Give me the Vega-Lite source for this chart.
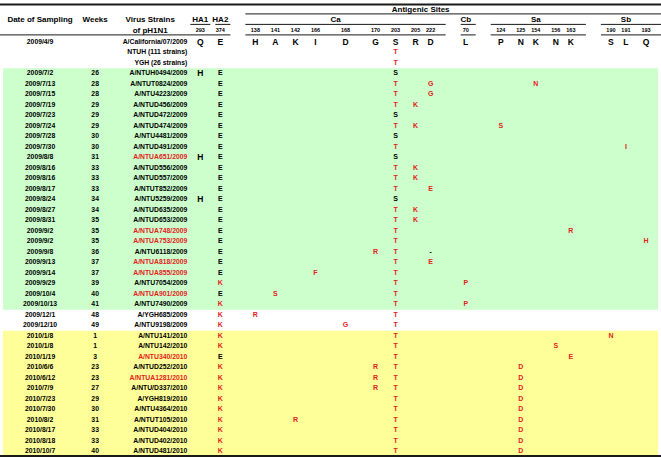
{
"$schema": "https://vega.github.io/schema/vega-lite/v6.json",
"width": 661, "height": 461, "autosize": {"type": "none"}, "padding": 0,
"background": "white",
"config": {"view": {"stroke": null}},
"datasets": {
"bands": [{"from": 3, "to": 25, "period": "2009"}, {"from": 28, "to": 39, "period": "2010"}],
"lines": [
{"row": -4, "from": "left", "to": "right", "kind": "border"},
{"row": 39, "from": "left", "to": "right", "kind": "border"},
{"row": -3, "from": "caL", "to": "right", "kind": "rule"},
{"row": -2, "from": "ha1L", "to": "ha1R", "kind": "rule"},
{"row": -2, "from": "ha2L", "to": "ha2R", "kind": "rule"},
{"row": -2, "from": "caL", "to": "caR", "kind": "rule"},
{"row": -2, "from": "cbL", "to": "cbR", "kind": "rule"},
{"row": -2, "from": "saL", "to": "saR", "kind": "rule"},
{"row": -2, "from": "sbL", "to": "right", "kind": "rule"},
{"row": -1, "from": "left", "to": "ha2R", "kind": "rule"},
{"row": -1, "from": "caL", "to": "caR", "kind": "rule"},
{"row": -1, "from": "cbL", "to": "cbR", "kind": "rule"},
{"row": -1, "from": "saL", "to": "saR", "kind": "rule"},
{"row": -1, "from": "sbL", "to": "right", "kind": "rule"}
],
"headers": [
{"r": -3, "col": "hAnt", "label": "Antigenic Sites"},
{"r": -2, "col": "date", "label": "Date of Sampling"},
{"r": -2, "col": "weeks", "label": "Weeks"},
{"r": -2, "col": "strainHdr", "label": "Virus Strains"},
{"r": -1, "col": "strainHdr", "label": "of pH1N1"},
{"r": -2, "col": "ha1", "label": "HA1"},
{"r": -2, "col": "ha2", "label": "HA2"},
{"r": -2, "col": "hCa", "label": "Ca"},
{"r": -2, "col": "c70", "label": "Cb"},
{"r": -2, "col": "c154", "label": "Sa"},
{"r": -2, "col": "c191", "label": "Sb"}
],
"positions": [
{"col": "ha1", "label": "293"}, {"col": "ha2", "label": "374"},
{"col": "c138", "label": "138"}, {"col": "c141", "label": "141"}, {"col": "c142", "label": "142"},
{"col": "c166", "label": "166"}, {"col": "c168", "label": "168"}, {"col": "c170", "label": "170"},
{"col": "c203", "label": "203"}, {"col": "c205", "label": "205"}, {"col": "c222", "label": "222"},
{"col": "c70", "label": "70"},
{"col": "c124", "label": "124"}, {"col": "c125", "label": "125"}, {"col": "c154", "label": "154"},
{"col": "c156", "label": "156"}, {"col": "c163", "label": "163"},
{"col": "c190", "label": "190"}, {"col": "c191", "label": "191"}, {"col": "c193", "label": "193"}
],
"samples": [
{"r": 0, "date": "2009/4/9", "strain": "A/California/07/2009"},
{"r": 1, "strain": "NTUH (111 strains)"},
{"r": 2, "strain": "YGH  (26 strains)"},
{"r": 3, "date": "2009/7/2", "week": 26, "strain": "A/NTUH0494/2009"},
{"r": 4, "date": "2009/7/13", "week": 28, "strain": "A/NTUT0824/2009"},
{"r": 5, "date": "2009/7/15", "week": 28, "strain": "A/NTU4223/2009"},
{"r": 6, "date": "2009/7/19", "week": 29, "strain": "A/NTUD456/2009"},
{"r": 7, "date": "2009/7/23", "week": 29, "strain": "A/NTUD472/2009"},
{"r": 8, "date": "2009/7/24", "week": 29, "strain": "A/NTUD474/2009"},
{"r": 9, "date": "2009/7/28", "week": 30, "strain": "A/NTU4481/2009"},
{"r": 10, "date": "2009/7/30", "week": 30, "strain": "A/NTUD491/2009"},
{"r": 11, "date": "2009/8/8", "week": 31, "strain": "A/NTUA651/2009", "hl": true},
{"r": 12, "date": "2009/8/16", "week": 33, "strain": "A/NTUD556/2009"},
{"r": 13, "date": "2009/8/16", "week": 33, "strain": "A/NTUD557/2009"},
{"r": 14, "date": "2009/8/17", "week": 33, "strain": "A/NTUT852/2009"},
{"r": 15, "date": "2009/8/24", "week": 34, "strain": "A/NTU5259/2009"},
{"r": 16, "date": "2009/8/27", "week": 34, "strain": "A/NTUD635/2009"},
{"r": 17, "date": "2009/8/31", "week": 35, "strain": "A/NTUD653/2009"},
{"r": 18, "date": "2009/9/2", "week": 35, "strain": "A/NTUA748/2009", "hl": true},
{"r": 19, "date": "2009/9/2", "week": 35, "strain": "A/NTUA753/2009", "hl": true},
{"r": 20, "date": "2009/9/8", "week": 36, "strain": "A/NTU6118/2009"},
{"r": 21, "date": "2009/9/13", "week": 37, "strain": "A/NTUA818/2009", "hl": true},
{"r": 22, "date": "2009/9/14", "week": 37, "strain": "A/NTUA855/2009", "hl": true},
{"r": 23, "date": "2009/9/29", "week": 39, "strain": "A/NTU7054/2009"},
{"r": 24, "date": "2009/10/4", "week": 40, "strain": "A/NTUA901/2009", "hl": true},
{"r": 25, "date": "2009/10/13", "week": 41, "strain": "A/NTU7490/2009"},
{"r": 26, "date": "2009/12/1", "week": 48, "strain": "A/YGH685/2009"},
{"r": 27, "date": "2009/12/10", "week": 49, "strain": "A/NTU9198/2009"},
{"r": 28, "date": "2010/1/8", "week": 1, "strain": "A/NTU141/2010"},
{"r": 29, "date": "2010/1/8", "week": 1, "strain": "A/NTU142/2010"},
{"r": 30, "date": "2010/1/19", "week": 3, "strain": "A/NTU340/2010", "hl": true},
{"r": 31, "date": "2010/6/6", "week": 23, "strain": "A/NTUD252/2010"},
{"r": 32, "date": "2010/6/12", "week": 23, "strain": "A/NTUA1281/2010", "hl": true},
{"r": 33, "date": "2010/7/9", "week": 27, "strain": "A/NTU/D337/2010"},
{"r": 34, "date": "2010/7/23", "week": 29, "strain": "A/YGH819/2010"},
{"r": 35, "date": "2010/7/30", "week": 30, "strain": "A/NTU4364/2010"},
{"r": 36, "date": "2010/8/2", "week": 31, "strain": "A/NTUT105/2010"},
{"r": 37, "date": "2010/8/17", "week": 33, "strain": "A/NTUD404/2010"},
{"r": 38, "date": "2010/8/18", "week": 33, "strain": "A/NTUD402/2010"},
{"r": 39, "date": "2010/10/7", "week": 40, "strain": "A/NTUD481/2010"}
],
"residues": [
{"r": 0, "col": "ha1", "aa": "Q"}, {"r": 0, "col": "ha2", "aa": "E"},
{"r": 0, "col": "c138", "aa": "H"}, {"r": 0, "col": "c141", "aa": "A"}, {"r": 0, "col": "c142", "aa": "K"},
{"r": 0, "col": "c166", "aa": "I"}, {"r": 0, "col": "c168", "aa": "D"}, {"r": 0, "col": "c170", "aa": "G"},
{"r": 0, "col": "c203", "aa": "S"}, {"r": 0, "col": "c205", "aa": "R"}, {"r": 0, "col": "c222", "aa": "D"},
{"r": 0, "col": "c70", "aa": "L"},
{"r": 0, "col": "c124", "aa": "P"}, {"r": 0, "col": "c125", "aa": "N"}, {"r": 0, "col": "c154", "aa": "K"},
{"r": 0, "col": "c156", "aa": "N"}, {"r": 0, "col": "c163", "aa": "K"},
{"r": 0, "col": "c190", "aa": "S"}, {"r": 0, "col": "c191", "aa": "L"}, {"r": 0, "col": "c193", "aa": "Q"},
{"r": 1, "col": "c203", "aa": "T", "hl": true},
{"r": 2, "col": "c203", "aa": "T", "hl": true},
{"r": 3, "col": "ha1", "aa": "H"}, {"r": 3, "col": "ha2", "aa": "E"}, {"r": 3, "col": "c203", "aa": "S"},
{"r": 4, "col": "ha2", "aa": "E"}, {"r": 4, "col": "c203", "aa": "T", "hl": true}, {"r": 4, "col": "c222", "aa": "G", "hl": true}, {"r": 4, "col": "c154", "aa": "N", "hl": true},
{"r": 5, "col": "ha2", "aa": "E"}, {"r": 5, "col": "c203", "aa": "T", "hl": true}, {"r": 5, "col": "c222", "aa": "G", "hl": true},
{"r": 6, "col": "ha2", "aa": "E"}, {"r": 6, "col": "c203", "aa": "T", "hl": true}, {"r": 6, "col": "c205", "aa": "K", "hl": true},
{"r": 7, "col": "ha2", "aa": "E"}, {"r": 7, "col": "c203", "aa": "S"},
{"r": 8, "col": "ha2", "aa": "E"}, {"r": 8, "col": "c203", "aa": "T", "hl": true}, {"r": 8, "col": "c205", "aa": "K", "hl": true}, {"r": 8, "col": "c124", "aa": "S", "hl": true},
{"r": 9, "col": "ha2", "aa": "E"}, {"r": 9, "col": "c203", "aa": "S"},
{"r": 10, "col": "ha2", "aa": "E"}, {"r": 10, "col": "c203", "aa": "T", "hl": true}, {"r": 10, "col": "c191", "aa": "I", "hl": true},
{"r": 11, "col": "ha1", "aa": "H"}, {"r": 11, "col": "ha2", "aa": "E"}, {"r": 11, "col": "c203", "aa": "S"},
{"r": 12, "col": "ha2", "aa": "E"}, {"r": 12, "col": "c203", "aa": "T", "hl": true}, {"r": 12, "col": "c205", "aa": "K", "hl": true},
{"r": 13, "col": "ha2", "aa": "E"}, {"r": 13, "col": "c203", "aa": "T", "hl": true}, {"r": 13, "col": "c205", "aa": "K", "hl": true},
{"r": 14, "col": "ha2", "aa": "E"}, {"r": 14, "col": "c203", "aa": "T", "hl": true}, {"r": 14, "col": "c222", "aa": "E", "hl": true},
{"r": 15, "col": "ha1", "aa": "H"}, {"r": 15, "col": "ha2", "aa": "E"}, {"r": 15, "col": "c203", "aa": "S"},
{"r": 16, "col": "ha2", "aa": "E"}, {"r": 16, "col": "c203", "aa": "T", "hl": true}, {"r": 16, "col": "c205", "aa": "K", "hl": true},
{"r": 17, "col": "ha2", "aa": "E"}, {"r": 17, "col": "c203", "aa": "T", "hl": true}, {"r": 17, "col": "c205", "aa": "K", "hl": true},
{"r": 18, "col": "ha2", "aa": "E"}, {"r": 18, "col": "c203", "aa": "T", "hl": true}, {"r": 18, "col": "c163", "aa": "R", "hl": true},
{"r": 19, "col": "ha2", "aa": "E"}, {"r": 19, "col": "c203", "aa": "T", "hl": true}, {"r": 19, "col": "c193", "aa": "H", "hl": true},
{"r": 20, "col": "ha2", "aa": "E"}, {"r": 20, "col": "c170", "aa": "R", "hl": true}, {"r": 20, "col": "c203", "aa": "T", "hl": true}, {"r": 20, "col": "c222", "aa": "-"},
{"r": 21, "col": "ha2", "aa": "E"}, {"r": 21, "col": "c203", "aa": "T", "hl": true}, {"r": 21, "col": "c222", "aa": "E", "hl": true},
{"r": 22, "col": "ha2", "aa": "E"}, {"r": 22, "col": "c166", "aa": "F", "hl": true}, {"r": 22, "col": "c203", "aa": "T", "hl": true},
{"r": 23, "col": "ha2", "aa": "K", "hl": true}, {"r": 23, "col": "c203", "aa": "T", "hl": true}, {"r": 23, "col": "c70", "aa": "P", "hl": true},
{"r": 24, "col": "ha2", "aa": "E"}, {"r": 24, "col": "c141", "aa": "S", "hl": true}, {"r": 24, "col": "c203", "aa": "T", "hl": true},
{"r": 25, "col": "ha2", "aa": "K", "hl": true}, {"r": 25, "col": "c203", "aa": "T", "hl": true}, {"r": 25, "col": "c70", "aa": "P", "hl": true},
{"r": 26, "col": "ha2", "aa": "K", "hl": true}, {"r": 26, "col": "c138", "aa": "R", "hl": true}, {"r": 26, "col": "c203", "aa": "T", "hl": true},
{"r": 27, "col": "ha2", "aa": "K", "hl": true}, {"r": 27, "col": "c168", "aa": "G", "hl": true}, {"r": 27, "col": "c203", "aa": "T", "hl": true},
{"r": 28, "col": "ha2", "aa": "K", "hl": true}, {"r": 28, "col": "c203", "aa": "T", "hl": true}, {"r": 28, "col": "c190", "aa": "N", "hl": true},
{"r": 29, "col": "ha2", "aa": "K", "hl": true}, {"r": 29, "col": "c203", "aa": "T", "hl": true}, {"r": 29, "col": "c156", "aa": "S", "hl": true},
{"r": 30, "col": "ha2", "aa": "E"}, {"r": 30, "col": "c203", "aa": "T", "hl": true}, {"r": 30, "col": "c163", "aa": "E", "hl": true},
{"r": 31, "col": "ha2", "aa": "K", "hl": true}, {"r": 31, "col": "c170", "aa": "R", "hl": true}, {"r": 31, "col": "c203", "aa": "T", "hl": true}, {"r": 31, "col": "c125", "aa": "D", "hl": true},
{"r": 32, "col": "ha2", "aa": "K", "hl": true}, {"r": 32, "col": "c170", "aa": "R", "hl": true}, {"r": 32, "col": "c203", "aa": "T", "hl": true}, {"r": 32, "col": "c125", "aa": "D", "hl": true},
{"r": 33, "col": "ha2", "aa": "K", "hl": true}, {"r": 33, "col": "c170", "aa": "R", "hl": true}, {"r": 33, "col": "c203", "aa": "T", "hl": true}, {"r": 33, "col": "c125", "aa": "D", "hl": true},
{"r": 34, "col": "ha2", "aa": "K", "hl": true}, {"r": 34, "col": "c203", "aa": "T", "hl": true}, {"r": 34, "col": "c125", "aa": "D", "hl": true},
{"r": 35, "col": "ha2", "aa": "K", "hl": true}, {"r": 35, "col": "c203", "aa": "T", "hl": true}, {"r": 35, "col": "c125", "aa": "D", "hl": true},
{"r": 36, "col": "ha2", "aa": "K", "hl": true}, {"r": 36, "col": "c142", "aa": "R", "hl": true}, {"r": 36, "col": "c203", "aa": "T", "hl": true}, {"r": 36, "col": "c125", "aa": "D", "hl": true},
{"r": 37, "col": "ha2", "aa": "K", "hl": true}, {"r": 37, "col": "c203", "aa": "T", "hl": true}, {"r": 37, "col": "c125", "aa": "D", "hl": true},
{"r": 38, "col": "ha2", "aa": "K", "hl": true}, {"r": 38, "col": "c203", "aa": "T", "hl": true}, {"r": 38, "col": "c125", "aa": "D", "hl": true},
{"r": 39, "col": "ha2", "aa": "K", "hl": true}, {"r": 39, "col": "c203", "aa": "T", "hl": true}, {"r": 39, "col": "c125", "aa": "D", "hl": true}
]
},
"layer": [
{
"data": {"name": "bands"},
"mark": {"type": "rect", "xOffset": 3, "x2Offset": -3, "yOffset": -5.25, "y2Offset": 5.25},
"encoding": {
"x": {"datum": "left", "type": "nominal", "axis": null, "scale": {"type": "point", "padding": 0, "domain": ["left","f1","f2","f3","f4","f5","f6","f7","date","f9","f10","f11","f12","f13","f14","f15","f16","f17","f18","weeks","f20","f21","f22","f23","f24","f25","f26","f27","f28","f29","strainHdr","f31","f32","f33","f34","f35","f36","strain","ha1L","f39","ha1","f41","ha1R","ha2L","ha2","f45","ha2R","f47","f48","caL","f50","c138","f52","f53","f54","c141","f56","f57","f58","c142","f60","f61","f62","c166","f64","f65","f66","hCa","f68","c168","f70","f71","f72","f73","f74","c170","f76","f77","f78","c203","f80","f81","f82","c205","hAnt","f85","c222","f87","f88","caR","f90","f91","cbL","c70","f94","cbR","f96","f97","saL","f99","c124","f101","f102","f103","c125","f105","f106","c154","f108","f109","f110","c156","f112","f113","c163","f115","f116","saR","f118","f119","sbL","f121","c190","f123","f124","c191","f126","f127","f128","c193","f130","f131","right"]}},
"x2": {"datum": "right"},
"y": {"field": "from", "type": "quantitative", "axis": null, "scale": {"domain": [-3.99, 39.91], "reverse": true, "nice": false, "zero": false}},
"y2": {"field": "to"},
"color": {"field": "period", "type": "nominal", "legend": null, "scale": {"domain": ["2009", "2010"], "range": ["#ccffcc", "#ffff99"]}}
}
},
{
"data": {"name": "lines"},
"transform": [{"filter": "datum.kind == 'rule'"}],
"mark": {"type": "rule", "strokeWidth": 1, "yOffset": 3.5, "color": "#1a1a1a"},
"encoding": {
"x": {"field": "from", "type": "nominal", "axis": null, "scale": {"type": "point"}},
"x2": {"field": "to"},
"y": {"field": "row", "type": "quantitative", "axis": null}
}
},
{
"data": {"name": "lines"},
"transform": [{"filter": "datum.kind == 'border'"}],
"mark": {"type": "rule", "strokeWidth": 2, "yOffset": 4.5, "color": "#1a1a1a"},
"encoding": {
"x": {"field": "from", "type": "nominal", "axis": null, "scale": {"type": "point"}},
"x2": {"field": "to"},
"y": {"field": "row", "type": "quantitative", "axis": null}
}
},
{
"data": {"name": "headers"},
"mark": {"type": "text", "font": "Liberation Sans", "fontWeight": "bold", "fontSize": 8, "baseline": "middle", "align": "center", "dy": -0.5, "color": "#000000"},
"encoding": {
"x": {"field": "col", "type": "nominal", "axis": null, "scale": {"type": "point"}},
"y": {"field": "r", "type": "quantitative", "axis": null},
"text": {"field": "label", "type": "nominal"}
}
},
{
"data": {"name": "positions"},
"mark": {"type": "text", "font": "Liberation Sans", "fontWeight": "bold", "fontSize": 5.5, "baseline": "middle", "align": "center", "color": "#000000"},
"encoding": {
"x": {"field": "col", "type": "nominal", "axis": null, "scale": {"type": "point"}},
"y": {"datum": -1.15, "type": "quantitative", "axis": null},
"text": {"field": "label", "type": "nominal"}
}
},
{
"data": {"name": "samples"},
"transform": [{"filter": "isValid(datum.date)"}],
"mark": {"type": "text", "font": "Liberation Sans", "fontWeight": "bold", "fontSize": 6.8, "baseline": "middle", "align": "center", "color": "#000000"},
"encoding": {
"x": {"datum": "date", "type": "nominal", "axis": null, "scale": {"type": "point"}},
"y": {"field": "r", "type": "quantitative", "axis": null},
"text": {"field": "date", "type": "nominal"}
}
},
{
"data": {"name": "samples"},
"transform": [{"filter": "isValid(datum.week)"}],
"mark": {"type": "text", "font": "Liberation Sans", "fontWeight": "bold", "fontSize": 6.8, "baseline": "middle", "align": "center", "color": "#000000"},
"encoding": {
"x": {"datum": "weeks", "type": "nominal", "axis": null, "scale": {"type": "point"}},
"y": {"field": "r", "type": "quantitative", "axis": null},
"text": {"field": "week", "type": "nominal"}
}
},
{
"data": {"name": "samples"},
"mark": {"type": "text", "font": "Liberation Sans", "fontWeight": "bold", "fontSize": 6.8, "baseline": "middle", "align": "right", "dx": 2},
"encoding": {
"x": {"datum": "strain", "type": "nominal", "axis": null, "scale": {"type": "point"}},
"y": {"field": "r", "type": "quantitative", "axis": null},
"text": {"field": "strain", "type": "nominal"},
"color": {"condition": {"test": "datum.hl", "value": "#e3211c"}, "value": "#000000"}
}
},
{
"data": {"name": "residues"},
"transform": [{"filter": "datum.r == 0 || datum.col == 'ha1'"}],
"mark": {"type": "text", "font": "Liberation Sans", "fontWeight": "bold", "fontSize": 8.5, "baseline": "middle", "align": "center"},
"encoding": {
"x": {"field": "col", "type": "nominal", "axis": null, "scale": {"type": "point"}},
"y": {"field": "r", "type": "quantitative", "axis": null},
"text": {"field": "aa", "type": "nominal"},
"color": {"condition": {"test": "datum.hl", "value": "#e3211c"}, "value": "#000000"}
}
},
{
"data": {"name": "residues"},
"transform": [{"filter": "datum.r != 0 && datum.col != 'ha1'"}],
"mark": {"type": "text", "font": "Liberation Sans", "fontWeight": "bold", "fontSize": 7, "baseline": "middle", "align": "center"},
"encoding": {
"x": {"field": "col", "type": "nominal", "axis": null, "scale": {"type": "point"}},
"y": {"field": "r", "type": "quantitative", "axis": null},
"text": {"field": "aa", "type": "nominal"},
"color": {"condition": {"test": "datum.hl", "value": "#e3211c"}, "value": "#000000"}
}
}
]
}
